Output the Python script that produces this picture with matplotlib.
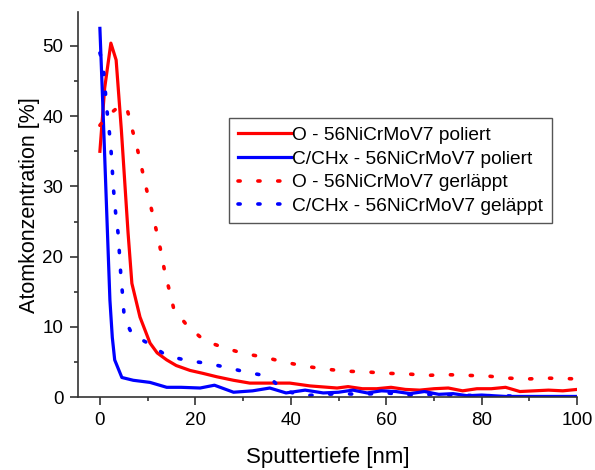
import numpy as np
import matplotlib
matplotlib.use("Agg")
import matplotlib.pyplot as plt

plt.rcParams['font.family'] = ['Liberation Sans', 'DejaVu Sans']

# O - poliert (solid red)
x_o_pol = [0, 1.0, 2.3, 3.4, 4.5, 5.9, 6.7, 8.4, 10.5, 12, 14, 16, 18.9, 21.5, 24.5, 28, 31.4,
           36, 39.8, 44, 49.7, 52, 55, 58, 61, 64, 67, 70, 73, 76, 79, 82, 85, 88, 91, 94, 97, 100]
y_o_pol = [35.0, 44.0, 50.4, 48.0, 38.0, 23.4, 16.2, 11.4, 7.7, 6.3, 5.3, 4.5, 3.8, 3.4, 2.9, 2.4, 2.0,
           2.0, 2.0, 1.6, 1.3, 1.5, 1.2, 1.2, 1.4, 1.1, 1.0, 1.2, 1.3, 0.9, 1.2, 1.2, 1.4, 0.8, 0.9, 1.0, 0.9, 1.1]

# C/CHx - poliert (solid blue)
x_c_pol = [0, 0.7, 1.5, 2.1, 2.6, 3.1, 4.6, 7, 10.5, 12, 14, 17, 21, 24, 26, 28, 32, 35.6, 39, 43,
           46.8, 50, 53, 56, 59, 62, 65, 68, 71, 74, 77, 80, 85, 90, 95, 100]
y_c_pol = [52.5, 40.0, 25.0, 13.8, 8.5, 5.3, 2.8, 2.4, 2.1, 1.8, 1.4, 1.4, 1.3, 1.7, 1.2, 0.7, 0.9, 1.3, 0.6, 1.0,
           0.6, 0.7, 1.0, 0.6, 0.9, 0.8, 0.5, 0.8, 0.4, 0.5, 0.2, 0.3, 0.1, 0.1, 0.1, 0.1]

# O - gelaeppt (dotted red)
x_o_gel = [0, 1.5, 3.5, 5.0, 5.6, 6.7, 7.8, 8.8, 9.8, 10.9, 11.9, 12.8, 13.6, 14.7, 15.5, 18.4, 22, 26.2,
           30.2, 34.4, 38.6, 43, 47.2, 51.4, 55.7, 60, 64.4, 68.6, 72.8, 77.1, 81.3, 85.7, 89.9, 94.1, 100]
y_o_gel = [38.7, 40.0, 41.1, 41.5, 41.3, 38.3, 35.5, 32.5, 29.5, 26.5, 23.5, 20.7, 17.8, 14.8, 12.5, 10.1, 8.0, 7.0,
           6.2, 5.7, 5.0, 4.4, 4.0, 3.7, 3.6, 3.4, 3.3, 3.1, 3.2, 3.1, 3.0, 2.7, 2.6, 2.7, 2.6]

# C/CHx - gelaeppt (dotted blue)
x_c_gel = [0, 0.6, 1.0, 1.4, 1.9, 2.3, 2.6, 2.9, 3.3, 3.8, 4.1, 4.4, 4.8, 5.1, 6.7, 10.5, 14, 18.4, 22.6,
           26.8, 31, 35.2, 38.4, 42.6, 45, 50, 55, 60, 65, 70, 75, 80, 85, 90, 100]
y_c_gel = [49.0, 47.6, 44.7, 41.3, 38.3, 35.5, 32.3, 29.2, 26.2, 23.4, 20.4, 17.2, 14.2, 11.3, 9.0, 7.5, 5.9, 5.2, 4.8,
           4.2, 3.5, 3.0, 1.0, 0.2, 0.3, 0.5, 0.4, 0.6, 0.3, 0.4, 0.3, 0.2, 0.2, 0.0, 0.0]

labels = ['O - 56NiCrMoV7 poliert', 'C/CHx - 56NiCrMoV7 poliert',
          'O - 56NiCrMoV7 gerläppt', 'C/CHx - 56NiCrMoV7 geläppt']

fig = plt.figure(figsize=(5.95, 4.7), dpi=100)
ax = fig.add_axes([0.131, 0.155, 0.839, 0.819])

lw = 2.3
dlw = 2.6
dots = (0, (0.6, 4.9))
ax.plot(x_o_pol, y_o_pol, color='#ff0000', lw=lw, label=labels[0])
ax.plot(x_c_pol, y_c_pol, color='#0000ff', lw=lw, label=labels[1])
ax.plot(x_o_gel, y_o_gel, color='#ff0000', lw=dlw, ls=dots, dash_capstyle='round', label=labels[2])
ax.plot(x_c_gel, y_c_gel, color='#0000ff', lw=dlw, ls=dots, dash_capstyle='round', label=labels[3])

ax.set_xlim(-4.6, 100)
ax.set_ylim(0, 54.8)
ax.set_xticks([0, 20, 40, 60, 80, 100])
ax.set_xticks(np.arange(10, 100, 20), minor=True)
ax.set_yticks([0, 10, 20, 30, 40, 50])
ax.set_yticks(np.arange(5, 55, 10), minor=True)
ax.spines['top'].set_visible(False)
ax.spines['right'].set_visible(False)
for s in ('left', 'bottom'):
    ax.spines[s].set_color('#333333')
    ax.spines[s].set_linewidth(1.2)
ax.tick_params(which='major', length=5.5, width=1.2, color='#333333', labelsize=13.5, pad=5)
ax.tick_params(which='minor', length=3, width=1.2, color='#333333')

ax.set_xlabel('Sputtertiefe [nm]', fontsize=16, labelpad=13)
ax.set_ylabel('Atomkonzentration [%]', fontsize=15.5, labelpad=2)

leg = ax.legend(loc='upper left', bbox_to_anchor=(0.303, 0.725), borderaxespad=0,
                fontsize=13.8, handlelength=2.75, handletextpad=0.1, labelspacing=0.32,
                borderpad=0.45, fancybox=False, edgecolor='#555555', framealpha=1)
leg.get_frame().set_linewidth(1.0)

fig.savefig('out.png', dpi=100)
